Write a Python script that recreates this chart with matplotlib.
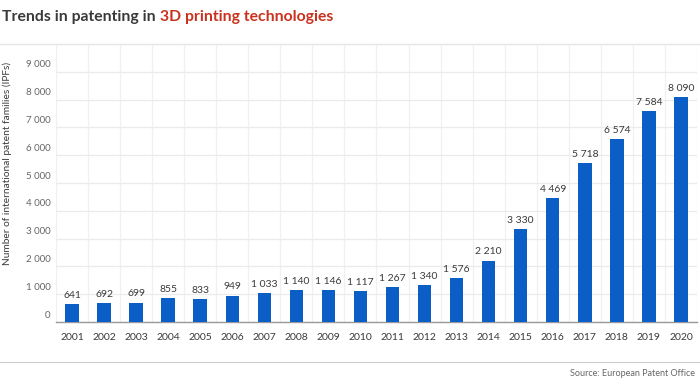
import matplotlib.pyplot as plt
import numpy as np

# data
years = [str(y) for y in range(2001, 2021)]
ipfs = [641, 692, 699, 855, 833, 949, 1033, 1140, 1146, 1117,
        1267, 1340, 1576, 2210, 3330, 4469, 5718, 6574, 7584, 8090]
y_ticks = list(range(0, 10000, 1000))

BAR_BLUE = "#0A5EC6"
TEXT_DARK = "#3a3a3a"
RED = "#C8321E"

plt.rcParams['font.family'] = ['Lato', 'DejaVu Sans']


def fmt(v):
    # thousands separated by a space, as in the source
    return f"{v:,}".replace(",", " ")


fig = plt.figure(figsize=(7, 3.8), dpi=100)
ax = fig.add_axes([0.08, 0.1526, 0.9157, 0.7314])

x = np.arange(len(years))
ax.bar(x, ipfs, width=0.42, color=BAR_BLUE, zorder=3)

for xi, v in zip(x, ipfs):
    ax.annotate(fmt(v), (xi, v), xytext=(0, 3), textcoords="offset points",
                ha="center", va="bottom", fontsize=7.5, color=TEXT_DARK)

ax.set_xlim(-0.5, len(years) - 0.5)
ax.set_ylim(0, 10000)
ax.set_xticks(x)
ax.set_xticklabels(years, fontsize=7.5, color=TEXT_DARK)
ax.set_xticks(np.arange(-0.5, len(years), 1), minor=True)
ax.set_yticks(y_ticks + [10000])
ax.set_yticklabels([])

# y labels sit a little above their gridline
for v in y_ticks:
    ax.annotate(fmt(v), (0, v), xycoords=ax.get_yaxis_transform(),
                xytext=(-4, 5), textcoords="offset points",
                ha="right", va="center", fontsize=7, color="#666666")

ax.tick_params(axis="both", which="both", length=0)
ax.tick_params(axis="x", pad=8)
ax.grid(axis="y", which="major", color="#ebebeb", lw=0.9, zorder=0)
ax.grid(axis="x", which="minor", color="#f0f0f0", lw=0.9, zorder=0)
for s in ["top", "right", "left"]:
    ax.spines[s].set_visible(False)
ax.spines["bottom"].set_color("#999999")
ax.spines["bottom"].set_linewidth(1.0)

ax.set_ylabel("Number of international patent families (IPFs)", fontsize=7.3,
              color=TEXT_DARK)
ax.yaxis.set_label_coords(-0.069, 0.57)

# title in two colours
t1 = fig.text(0.003, 0.975, "Trends in patenting in ", fontsize=11.3,
              fontweight="bold", color=TEXT_DARK, va="top", ha="left")
fig.canvas.draw()
bb = t1.get_window_extent()
fig.text(bb.x1 / fig.bbox.width, 0.975, "3D printing technologies", fontsize=11.3,
         fontweight="bold", color=RED, va="top", ha="left")

# separator lines and source
fig.add_artist(plt.Line2D([0, 1], [1 - 44 / 380, 1 - 44 / 380], color="#e6e6e6", lw=1))
fig.add_artist(plt.Line2D([0, 1], [1 - 362 / 380, 1 - 362 / 380], color="#cccccc", lw=0.8))
fig.text(0.993, 1 - 373 / 380, "Source: European Patent Office", fontsize=6.5,
         color="#666666", ha="right", va="center")

fig.savefig("out.png", dpi=100)
